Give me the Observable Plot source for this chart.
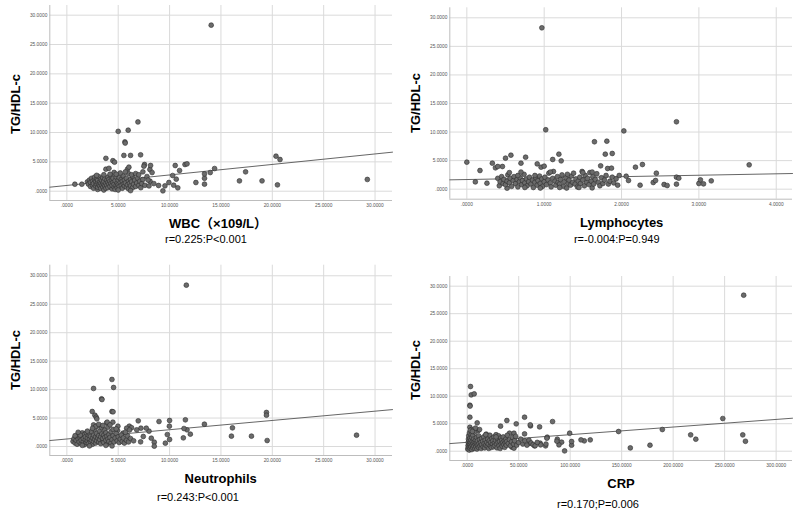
<!DOCTYPE html>
<html><head><meta charset="utf-8">
<script src="https://cdn.jsdelivr.net/npm/d3@7"></script>
<script src="https://cdn.jsdelivr.net/npm/@observablehq/plot@0.6"></script>
<style>
body{margin:0;background:#fff;font-family:"Liberation Sans",Arial,"Noto Sans CJK SC",sans-serif;}
#root{position:relative;width:799px;height:517px;overflow:hidden;background:#fff;}
.lbl{position:absolute;white-space:nowrap;transform:translate(-50%,-50%);color:#000;line-height:1;}
.t{font-weight:bold;font-size:13px;}
.r{font-size:11px;}
.yl{font-weight:bold;font-size:13px;transform:translate(-50%,-50%) rotate(-90deg);}
</style></head><body><div id="root"></div><script>
// ---- data ----
const yTicks = [0, 5, 10, 15, 20, 25, 30];
const wbcTicks = [0, 5, 10, 15, 20, 25, 30];
const lymTicks = [0, 1, 2, 3, 4];
const neuTicks = [0, 5, 10, 15, 20, 25, 30];
const crpTicks = [0, 50, 100, 150, 200, 250, 300];

const yTitle = "TG/HDL-c";
const xTitles = ["WBC（×109/L）", "Lymphocytes", "Neutrophils", "CRP"];
const statTexts = ["r=0.225:P<0.001", "r=-0.004:P=0.949", "r=0.243:P<0.001", "r=0.170;P=0.006"];

const fitIntercepts = [0.98, 1.69, 1.32, 1.62];
const fitSlopes = [0.179, 0.25, 0.163, 0.01386];

const wbcPoints = [
[14.05,28.3],[6.92,11.8],[5.0,10.2],[5.97,10.4],[5.65,8.4],[5.68,8.2],[5.55,6.1],[6.2,6.1],[7.18,6.2],[3.8,5.6],[4.48,5.2],[4.64,4.95],
[20.36,5.97],[20.75,5.4],[29.25,2.0],[19.0,1.76],[16.8,1.76],[17.4,3.3],[20.5,1.08],[12.56,1.48],[13.4,1.2],[13.4,2.2],[13.4,2.95],
[13.96,3.18],[14.38,3.86],[11.5,4.55],[11.7,4.66],[10.55,4.38],[10.97,3.52],[10.65,2.05],[10.3,2.67],[10.4,1.02],[10.8,0.57],[9.93,1.48],
[9.55,0.91],[9.35,0.06],[8.93,0.97],[8.08,3.7],[8.15,4.38],[7.56,4.55],[7.5,4.26],[8.3,3.18],[8.1,1.7],[8.47,1.3],[5.9,3.75],[6.04,4.1],
[3.8,3.75],[4.1,3.9],[4.6,3.2],[0.78,1.19],[1.46,1.19],
[2.0,1.6],[2.1,1.2],[2.2,1.9],[2.3,0.8],[2.3,1.5],[2.4,2.2],[2.5,1.0],[2.5,1.7],[2.6,0.5],[2.6,1.3],[2.7,2.0],[2.7,2.4],[2.8,0.9],[2.8,1.6],
[2.9,1.2],[2.9,2.1],[3.0,0.3],[3.0,0.7],[3.0,1.5],[3.0,1.9],[3.1,1.1],[3.1,2.5],[3.2,0.9],[3.2,1.6],[3.3,0.5],[3.3,1.3],[3.3,2.0],[3.4,1.0],
[3.4,1.8],[3.5,0.7],[3.5,1.4],[3.5,2.3],[3.6,0.2],[3.6,1.1],[3.6,1.7],[3.7,0.9],[3.7,2.1],[3.8,1.3],[3.8,0.5],[3.9,1.9],[3.9,1.0],[4.0,1.5],
[4.0,2.4],[4.0,0.6],[4.1,1.2],[4.1,2.0],[4.2,0.8],[4.2,1.7],[4.3,1.3],[4.3,2.6],[4.4,0.4],[4.4,1.0],[4.4,1.9],[4.5,1.5],[4.5,2.2],[4.6,0.7],
[4.6,1.2],[4.7,1.8],[4.7,0.3],[4.8,1.0],[4.8,2.4],[4.9,1.4],[4.9,0.6],[5.0,1.9],[5.0,1.1],[5.1,2.3],[5.1,0.8],[5.2,1.5],[5.3,1.0],[5.3,2.0],
[5.4,0.5],[5.4,1.7],[5.5,1.2],[5.5,2.6],[5.6,0.9],[5.6,1.9],[5.7,1.4],[5.8,0.7],[5.8,2.2],[5.9,1.1],[6.0,1.7],[6.0,0.4],[6.1,1.3],[6.2,2.0],
[6.2,0.9],[6.3,1.6],[6.4,0.6],[6.4,2.5],[6.5,1.2],[6.6,1.9],[6.7,0.8],[6.8,1.4],[6.9,2.2],[7.0,1.0],[7.1,1.7],[7.2,0.6],[7.3,1.3],[6.0,3.0],
[6.3,2.8],[5.7,3.3],[6.7,3.0],[7.0,2.8],[7.4,2.0],[7.4,3.3],[5.2,3.1],[4.8,2.9],[4.2,2.9],[3.6,2.8],[2.9,2.7],[7.6,1.0],[7.8,2.5],[7.9,1.9],
[8.0,0.9],[6.2,0.1],[5.0,0.2]
];

const lymPoints = [
[0.97,28.25],[1.02,10.4],[2.03,10.2],[2.71,11.8],[1.65,8.3],[1.81,8.4],[1.79,6.13],[1.88,6.25],[1.19,6.13],[1.22,4.96],[1.11,5.2],
[0.57,5.95],[0.5,5.43],[0.76,5.6],[0.70,4.55],[0.46,3.97],[0.33,4.55],[0.0,4.73],[0.17,3.27],[0.37,3.74],[0.4,3.97],[0.11,1.28],
[0.26,1.05],[0.91,4.43],[0.96,3.85],[1.0,4.03],[1.73,4.09],[1.82,3.62],[1.87,3.68],[2.18,3.85],[2.27,4.32],[2.45,2.8],[3.65,4.26],
[1.97,2.4],[2.06,2.27],[2.09,1.52],[2.24,0.7],[2.41,1.17],[2.44,1.52],[2.55,0.82],[2.59,0.64],[2.71,0.88],[2.71,2.1],[2.74,1.93],
[3.0,1.0],[3.02,1.63],[3.06,0.93],[3.16,1.46],[1.62,0.23],[0.52,0.18],
[0.40,1.9],[0.42,0.6],[0.43,1.3],[0.45,2.2],[0.47,1.0],[0.48,1.7],[0.50,0.8],[0.52,1.4],[0.53,2.5],[0.55,1.1],[0.56,1.9],[0.58,0.5],
[0.60,1.5],[0.61,2.2],[0.63,1.0],[0.65,1.7],[0.66,0.4],[0.68,1.3],[0.69,2.0],[0.71,0.8],[0.72,1.5],[0.74,2.6],[0.75,1.1],[0.77,1.8],
[0.78,0.6],[0.80,1.3],[0.81,2.1],[0.83,0.9],[0.85,1.6],[0.86,0.3],[0.88,1.2],[0.89,2.0],[0.91,0.7],[0.92,1.5],[0.94,2.3],[0.95,1.0],
[0.97,1.8],[0.98,0.5],[1.00,1.3],[1.01,2.1],[1.03,0.8],[1.05,1.6],[1.06,2.8],[1.08,1.1],[1.09,0.4],[1.11,1.9],[1.12,3.1],[1.14,1.4],
[1.15,0.7],[1.17,2.2],[1.18,1.2],[1.20,0.9],[1.21,1.7],[1.23,2.5],[1.25,0.5],[1.26,1.3],[1.28,2.0],[1.29,0.2],[1.31,1.0],[1.32,1.6],
[1.34,0.7],[1.35,2.3],[1.37,1.2],[1.38,2.8],[1.40,0.9],[1.41,1.8],[1.43,0.4],[1.44,1.4],[1.46,2.1],[1.47,1.0],[1.49,3.1],[1.50,1.6],
[1.52,0.6],[1.53,2.4],[1.55,1.2],[1.56,1.9],[1.58,0.8],[1.59,2.9],[1.61,1.4],[1.63,2.2],[1.64,0.9],[1.66,1.7],[1.68,2.7],[1.70,1.2],
[1.72,0.6],[1.74,2.0],[1.76,1.0],[1.78,1.6],[1.80,2.4],[1.83,0.9],[1.85,1.4],[1.88,2.1],[1.90,1.1],[1.93,1.8],[1.95,0.7],[1.62,3.0],
[1.50,2.9],[1.30,2.6],[1.08,3.0],[0.88,2.4],[0.66,2.4],[0.55,2.9],[0.70,3.0],[1.45,0.3],[1.20,0.3],[0.95,0.2],[0.75,0.3]
];

const neuPoints = [
[11.63,28.35],[4.39,11.78],[4.55,10.37],[2.6,10.2],[3.38,8.38],[3.42,8.25],[2.47,6.15],[4.39,6.15],[4.5,6.1],[2.73,5.5],[2.86,5.15],
[2.92,4.86],[3.87,4.16],[3.93,4.28],[4.48,4.28],[6.95,4.51],[8.97,4.39],[10.0,4.57],[11.54,4.69],[9.98,3.57],[13.39,3.92],[16.12,3.28],
[19.43,5.98],[19.43,5.5],[16.02,1.82],[17.97,1.82],[19.5,1.05],[28.2,1.99],[11.34,1.52],[12.02,2.17],[11.7,2.93],[11.4,3.16],[9.78,2.1],
[10.0,1.23],[9.59,0.59],[8.51,0.76],[8.51,0.06],[8.22,1.46],[8.0,2.7],[7.73,3.22],[7.21,3.22],[6.8,2.93],[7.44,1.76],[7.18,0.82],
[6.08,3.57],[5.82,3.22],[4.97,3.57],[4.94,2.81],[5.46,2.34],
[0.6,0.9],[0.7,1.4],[0.8,0.6],[0.9,1.1],[1.0,1.8],[1.0,0.4],[1.1,1.3],[1.2,0.8],[1.2,2.2],[1.3,1.5],[1.4,0.5],[1.4,1.1],[1.5,1.9],
[1.5,2.4],[1.6,0.9],[1.6,1.4],[1.7,0.3],[1.7,2.1],[1.8,1.2],[1.8,1.7],[1.9,0.7],[1.9,2.4],[2.0,1.0],[2.0,1.5],[2.1,2.0],[2.1,0.5],
[2.2,1.3],[2.2,2.3],[2.3,0.8],[2.3,1.8],[2.4,1.1],[2.4,2.6],[2.5,0.4],[2.5,1.5],[2.6,2.0],[2.6,0.9],[2.7,1.3],[2.7,3.0],[2.8,1.7],
[2.8,0.6],[2.9,2.3],[2.9,1.0],[3.0,1.5],[3.0,3.6],[3.1,0.8],[3.1,1.9],[3.2,2.7],[3.2,1.2],[3.3,0.5],[3.3,1.7],[3.4,2.2],[3.4,3.3],
[3.5,1.0],[3.5,1.4],[3.6,2.0],[3.6,0.7],[3.7,1.6],[3.7,2.9],[3.8,1.1],[3.8,2.4],[3.9,0.4],[3.9,1.8],[4.0,1.3],[4.0,3.4],[4.1,0.9],
[4.1,2.1],[4.2,1.6],[4.3,0.6],[4.3,2.6],[4.4,1.2],[4.4,0.1],[4.5,1.9],[4.5,3.0],[4.6,0.8],[4.7,1.5],[4.8,2.3],[4.9,1.0],[5.0,1.7],
[5.1,0.7],[5.2,1.3],[5.3,2.0],[5.4,0.9],[5.5,1.5],[5.6,0.6],[5.8,1.1],[5.9,1.9],[6.0,0.8],[6.2,1.4],[6.3,3.3],[6.5,1.0],[2.6,3.8],
[2.8,3.5],[3.1,3.9],[3.5,3.7],[2.5,3.2],[4.2,3.8],[4.8,3.1],[1.3,2.0],[0.8,1.9],[1.1,2.5],[2.0,2.7],[5.7,2.5],[6.1,2.9],[3.8,0.2],
[2.2,0.1],[1.5,0.2]
];

const crpPoints = [
[268.5,28.36],[248.2,5.94],[267.6,2.97],[270.2,1.8],[217,2.97],[222,2.18],[189.5,3.94],[177.5,1.09],[158.4,0.6],[147,3.58],[119.5,2.06],
[113.7,1.88],[110.5,2.06],[101.4,1.09],[101.4,1.76],[99.5,3.27],[94.6,0.06],[91.7,1.64],[89.1,1.15],[87.5,2.18],[87.1,1.82],[82.9,5.39],
[70.3,4.42],[77.7,2.55],[77.4,2.36],[76.1,0.97],[76.5,1.3],[61.5,4.6],[61.2,4.79],[55.7,6.18],[47.6,4.97],[38.5,5.58],[32.4,4.55],
[41.1,3.27],[45.4,3.27],[55.7,3.15],[70.9,1.45],[71.3,1.15],[65.4,0.97],[60.6,1.45],[43.4,0.73],[45.4,0.55],[3.2,11.76],[3.9,10.24],
[6.8,10.42],[2.6,8.36],[2.8,8.2],[2.6,6.18],[2.6,4.36],[9.7,5.15],[4.2,3.94],[10.7,3.76],[12.0,3.94],
[0.5,0.4],[0.8,1.0],[1.0,1.6],[1.2,2.2],[1.5,0.7],[1.5,2.8],[1.8,1.3],[2.0,0.2],[2.0,1.9],[2.2,3.3],[2.5,0.9],[2.5,1.5],[2.8,2.4],
[3.0,0.5],[3.0,3.8],[3.2,1.2],[3.5,2.0],[3.8,0.8],[4.0,1.5],[4.0,3.0],[4.5,0.3],[4.5,2.5],[5.0,1.1],[5.0,1.8],[5.5,0.6],[5.5,2.9],
[6.0,1.4],[6.2,2.2],[6.5,0.9],[7.0,1.7],[7.2,3.5],[7.5,0.5],[8.0,1.2],[8.0,2.0],[8.5,0.8],[9.0,1.5],[9.0,2.5],[9.5,0.4],[10.0,1.1],
[10.0,1.9],[11.0,0.7],[11.0,2.8],[11.5,1.4],[12.0,2.1],[12.5,0.9],[13.0,1.6],[13.5,0.5],[14.0,2.3],[14.0,1.2],[15.0,1.8],[15.5,0.8],
[16.0,2.6],[16.5,1.4],[17.0,0.6],[17.5,2.0],[18.0,1.1],[18.5,3.1],[19.0,1.6],[19.5,0.9],[20.0,2.2],[20.5,1.3],[21.0,0.5],[21.5,1.9],
[22.0,2.9],[22.5,1.0],[23.0,1.6],[23.5,0.7],[24.0,2.3],[24.5,1.3],[25.0,1.9],[25.5,0.8],[26.0,2.6],[26.5,1.5],[27.0,1.0],[27.5,2.0],
[28.0,3.0],[28.5,1.3],[29.0,0.6],[29.5,2.2],[30.0,1.6],[30.5,2.8],[31.0,1.0],[31.5,1.8],[32.0,0.5],[32.5,2.4],[33.0,1.3],[33.5,2.0],
[34.0,0.9],[34.5,1.6],[35.0,2.6],[35.5,1.2],[36.0,1.9],[36.5,0.7],[37.0,1.5],[37.5,2.2],[38.0,1.1],[38.5,1.8],[39.0,2.9],[40.0,1.4],
[41.0,2.1],[42.0,1.0],[43.0,1.7],[44.0,2.5],[45.0,1.3],[46.0,1.9],[47.0,2.7],[48.0,1.1],[50.0,1.6],[52.0,2.2],[54.0,1.3],[56.0,1.9],
[58.0,1.1],[60.0,2.0],[62.0,1.5],[64.0,1.2],[66.0,1.0],[68.0,1.6],[28.0,2.6],[18.0,3.0],[8.0,4.2],[5.0,3.6]
];

// ---- layout ----
const fmt = v => v === 0 ? ".0000" : v.toFixed(4);
const panels = [
  {pts: wbcPoints, ticks: wbcTicks, xDomain: [-1.66, 31.7], yDomain: [-1.585, 31.65], left: 0, top: 0, height: 212, mt: 5, mb: 12,
   yl: [15.3, 103.7], xl: [218, 222.7], st: [206, 239]},
  {pts: lymPoints, ticks: lymTicks, xDomain: [-0.22, 4.21], yDomain: [-1.75, 31.75], left: 400, top: 0, height: 210.7, mt: 7.3, mb: 12,
   yl: [415.3, 103], xl: [621.7, 221.7], st: [616.7, 239.3]},
  {pts: neuPoints, ticks: neuTicks, xDomain: [-1.66, 31.7], yDomain: [-1.58, 31.86], left: 0, top: 260, height: 207, mt: 4.7, mb: 12,
   yl: [15.3, 360], xl: [220.7, 478.3], st: [198, 496.7]},
  {pts: crpPoints, ticks: crpTicks, xDomain: [-16.9, 315.9], yDomain: [-1.69, 31.76], left: 400, top: 260, height: 212, mt: 16, mb: 12,
   yl: [415.3, 369.5], xl: [621, 482.7], st: [598, 503.7]}
];

const root = document.getElementById("root");
function addLabel(text, cls, [x, y]) {
  const d = document.createElement("div");
  d.className = "lbl " + cls;
  d.textContent = text;
  d.style.left = x + "px";
  d.style.top = y + "px";
  root.appendChild(d);
}

panels.forEach((p, i) => {
  const data = p.pts.map(([x, y]) => ({x, y}));
  const [x0, x1] = p.xDomain;
  const y0 = p.yDomain[0];
  const a = fitIntercepts[i], b = fitSlopes[i];
  const fit = [{x: x0, y: a + b * x0}, {x: x1, y: a + b * x1}];
  const chart = Plot.plot({
    width: 400, height: p.height,
    marginLeft: 49.3, marginRight: 8, marginTop: p.mt, marginBottom: p.mb,
    style: {fontSize: "4.8px", color: "#555", background: "transparent", fontFamily: "'Liberation Sans', Arial, sans-serif", overflow: "visible"},
    x: {domain: p.xDomain, ticks: p.ticks, tickFormat: fmt, tickSize: 0, tickPadding: 3, label: null},
    y: {domain: p.yDomain, ticks: yTicks, tickFormat: fmt, tickSize: 0, tickPadding: 2.5, label: null},
    marks: [
      Plot.ruleX(p.ticks, {stroke: "#dadada", strokeWidth: 1}),
      Plot.ruleY(yTicks, {stroke: "#dadada", strokeWidth: 1}),
      Plot.ruleX([x0], {stroke: "#bdbdbd", strokeWidth: 1}),
      Plot.ruleY([y0], {stroke: "#bdbdbd", strokeWidth: 1}),
      Plot.line(fit, {x: "x", y: "y", stroke: "#555", strokeWidth: 0.9}),
      Plot.dot(data, {x: "x", y: "y", r: 2.4, fill: "#6b6b6b", fillOpacity: 1, stroke: "#2e2e2e", strokeWidth: 0.6})
    ]
  });
  chart.style.position = "absolute";
  chart.style.left = p.left + "px";
  chart.style.top = p.top + "px";
  root.appendChild(chart);
  addLabel(yTitle, "yl", p.yl);
  addLabel(xTitles[i], "t", p.xl);
  addLabel(statTexts[i], "r", p.st);
});
</script></body></html>
